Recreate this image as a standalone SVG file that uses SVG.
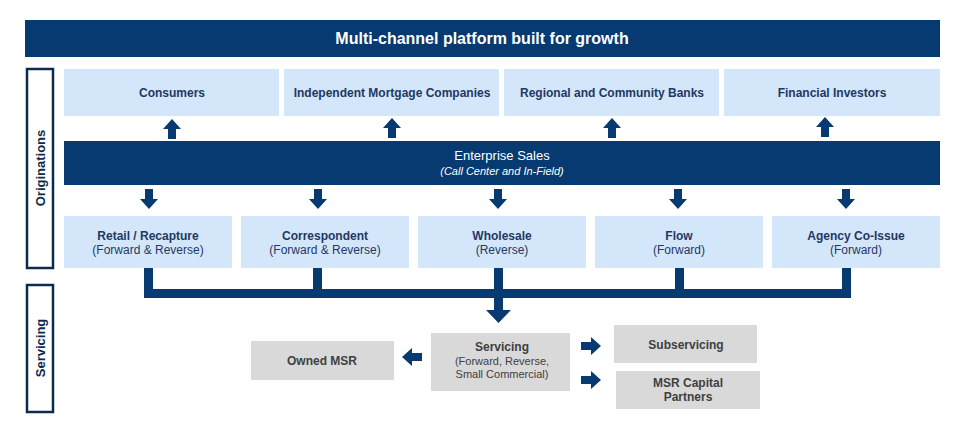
<svg xmlns="http://www.w3.org/2000/svg" width="967" height="433" viewBox="0 0 967 433">
<style>
text{font-family:"Liberation Sans",Arial,sans-serif;text-anchor:middle}
.lb{fill:#d4e6f9}.dk{fill:#063a70}.gr{fill:#d9d9d9}
.t{font-size:12px;font-weight:bold;fill:#1f3864}
.s{font-size:12px;fill:#1f3864}
.g{font-size:12px;font-weight:bold;fill:#404040}
.gs{font-size:11px;fill:#404040}
.side{fill:#fff;stroke:#0d2b4e;stroke-width:2.5}
</style>
<defs>
<polygon id="au" points="0,-10 9,0 4,0 4,10 -4,10 -4,0 -9,0" fill="#063a70"/>
</defs>
<g id="title"><rect x="25" y="20" width="915" height="37" class="dk"/><text x="482" y="44" style="font-size:16px;font-weight:bold;fill:#fff">Multi-channel platform built for growth</text></g>
<g id="orig-label"><rect x="27" y="69" width="26" height="199" class="side"/><text transform="translate(45,168) rotate(-90)" style="font-size:13px;font-weight:bold;fill:#0d2b4e">Originations</text></g>
<g id="serv-label"><rect x="27" y="285" width="26" height="127" class="side"/><text transform="translate(45,348) rotate(-90)" style="font-size:13px;font-weight:bold;fill:#0d2b4e">Servicing</text></g>
<g id="consumers"><rect x="64" y="69" width="215" height="47" class="lb"/><text x="172" y="97" class="t">Consumers</text></g>
<g id="imc"><rect x="284" y="69" width="215" height="47" class="lb"/><text x="392" y="97" class="t">Independent Mortgage Companies</text></g>
<g id="rcb"><rect x="504" y="69" width="215" height="47" class="lb"/><text x="612" y="97" class="t">Regional and Community Banks</text></g>
<g id="fi"><rect x="724" y="69" width="216" height="47" class="lb"/><text x="832" y="97" class="t">Financial Investors</text></g>
<g id="enterprise"><rect x="64" y="141" width="876" height="44" class="dk"/><text x="502" y="160" style="font-size:13px;fill:#fff">Enterprise Sales</text><text x="502" y="175" style="font-size:11px;font-style:italic;fill:#fff">(Call Center and In-Field)</text></g>
<g id="retail"><rect x="64" y="216" width="168" height="52" class="lb"/><text x="148" y="240" class="t">Retail / Recapture</text><text x="148" y="254" class="s">(Forward &amp; Reverse)</text></g>
<g id="corr"><rect x="241" y="216" width="168" height="52" class="lb"/><text x="325" y="240" class="t">Correspondent</text><text x="325" y="254" class="s">(Forward &amp; Reverse)</text></g>
<g id="wholesale"><rect x="418" y="216" width="168" height="52" class="lb"/><text x="502" y="240" class="t">Wholesale</text><text x="502" y="254" class="s">(Reverse)</text></g>
<g id="flow"><rect x="595" y="216" width="168" height="52" class="lb"/><text x="679" y="240" class="t">Flow</text><text x="679" y="254" class="s">(Forward)</text></g>
<g id="agency"><rect x="772" y="216" width="168" height="52" class="lb"/><text x="856" y="240" class="t">Agency Co-Issue</text><text x="856" y="254" class="s">(Forward)</text></g>
<g id="servicing"><rect x="431" y="333" width="139" height="58" class="gr"/><text x="502" y="351" class="g">Servicing</text><text x="502" y="365" class="gs">(Forward, Reverse,</text><text x="502" y="378" class="gs">Small Commercial)</text></g>
<g id="owned"><rect x="251" y="341" width="143" height="39" class="gr"/><text x="322" y="365" class="g">Owned MSR</text></g>
<g id="subserv"><rect x="614" y="325" width="143" height="38" class="gr"/><text x="686" y="349" class="g">Subservicing</text></g>
<g id="msrcap"><rect x="616" y="371" width="144" height="38" class="gr"/><text x="688" y="387" class="g">MSR Capital</text><text x="688" y="401" class="g">Partners</text></g>
<g id="connectors" fill="#063a70">
<use href="#au" x="172" y="129"/><use href="#au" x="392" y="128"/><use href="#au" x="612" y="128"/><use href="#au" x="825" y="127"/>
<use href="#au" transform="translate(149,199) rotate(180)"/><use href="#au" transform="translate(318,199) rotate(180)"/><use href="#au" transform="translate(498,199) rotate(180)"/><use href="#au" transform="translate(678,199) rotate(180)"/><use href="#au" transform="translate(846,199) rotate(180)"/>
<rect x="144" y="268" width="9" height="30"/><rect x="313" y="268" width="9" height="30"/><rect x="494" y="268" width="9" height="30"/><rect x="675" y="268" width="9" height="30"/><rect x="842" y="268" width="9" height="30"/>
<rect x="144" y="289" width="707" height="9"/>
<polygon points="494,298 503,298 503,310 511,310 498.5,323 486,310 494,310"/>
<use href="#au" transform="translate(412,357) rotate(-90)"/>
<use href="#au" transform="translate(591,346) rotate(90)"/>
<use href="#au" transform="translate(591,380) rotate(90)"/>
</g>
</svg>
